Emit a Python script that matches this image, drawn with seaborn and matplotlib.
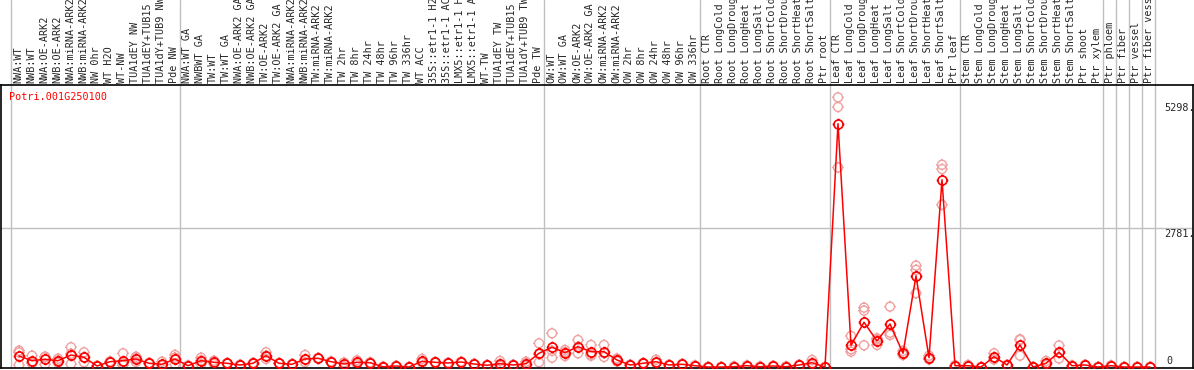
import matplotlib
matplotlib.use("Agg")
import matplotlib.pyplot as plt
import matplotlib.transforms as mtransforms
from matplotlib.path import Path
import numpy as np
import pandas as pd
import seaborn as sns

gene = "Potri.001G250100"

samples = [
    "NWA:WT", "NWB:WT", "NWA:OE-ARK2", "NWB:OE-ARK2", "NWA:miRNA-ARK2", "NWB:miRNA-ARK2",
    "NW 0hr", "WT H2O", "WT-NW", "TUA1dEY NW", "TUA1dEY+TUB15 NW", "TUA1dY+TUB9 NW", "Pde NW",
    "NWA:WT GA", "NWBWT GA", "TW:WT", "TW:WT GA", "NWA:OE-ARK2 GA", "NWB:OE-ARK2 GA",
    "TW:OE-ARK2", "TW:OE-ARK2 GA", "NWA:miRNA-ARK2", "NWB:miRNA-ARK2", "TW:miRNA-ARK2",
    "TW:miRNA-ARK2", "TW 2hr", "TW 8hr", "TW 24hr", "TW 48hr", "TW 96hr", "TW 336hr",
    "WT ACC", "35S::etr1-1 H2O", "35S::etr1-1 ACC", "LMX5::etr1-1 H2O", "LMX5::etr1-1 ACC",
    "WT-TW", "TUA1dEY TW", "TUA1dEY+TUB15 TW", "TUA1dY+TUB9 TW", "Pde TW",
    "OW:WT", "OW:WT GA", "OW:OE-ARK2", "OW:OE-ARK2 GA", "OW:miRNA-ARK2", "OW:miRNA-ARK2",
    "OW 2hr", "OW 8hr", "OW 24hr", "OW 48hr", "OW 96hr", "OW 336hr",
    "Root CTR", "Root LongCold", "Root LongDrought", "Root LongHeat", "Root LongSalt",
    "Root ShortCold", "Root ShortDrought", "Root ShortHeat", "Root ShortSalt", "Ptr root",
    "Leaf CTR", "Leaf LongCold", "Leaf LongDrought", "Leaf LongHeat", "Leaf LongSalt",
    "Leaf ShortCold", "Leaf ShortDrought", "Leaf ShortHeat", "Leaf ShortSalt", "Ptr leaf",
    "Stem CTR", "Stem LongCold", "Stem LongDrought", "Stem LongHeat", "Stem LongSalt",
    "Stem ShortCold", "Stem ShortDrought", "Stem ShortHeat", "Stem ShortSalt",
    "Ptr shoot", "Ptr xylem", "Ptr phloem", "Ptr fiber", "Ptr vessel", "Ptr fiber vessel",
]

# mean expression (red line)
mean_expr = [
    220, 126, 154, 126, 240, 194, 20, 106, 126, 160, 74, 54, 160,
    26, 126, 94, 74, 40, 74, 226, 74, 54, 160, 174, 106, 60, 94, 86, 4, 20, 0,
    114, 94, 80, 100, 60, 34, 66, 40, 66, 274,
    394, 286, 406, 306, 306, 140, 40, 74, 106, 40, 54, 26,
    0, 0, 6, 26, 6, 20, 6, 40, 86, 0,
    4860, 434, 894, 520, 860, 274, 1820, 186, 3740, 26,
    26, 0, 206, 40, 440, 0, 74, 296, 26,
    40, 0, 26, 0, 0, 0,
]

# replicates (pale circles)
rep1 = [
    326, 226, 206, 166, 394, 294, 26, 112, 274, 206, 82, 106, 240,
    32, 186, 126, 78, 46, 80, 294, 78, 60, 240, 180, 112, 86, 134, 92, 8, 26, 0,
    160, 100, 86, 106, 66, 40, 120, 46, 106, 474,
    674, 340, 540, 440, 440, 170, 46, 80, 146, 46, 60, 32,
    0, 0, 12, 32, 12, 26, 12, 46, 140, 0,
    5386, 620, 1186, 574, 1206, 320, 2026, 226, 4040, 32,
    40, 0, 274, 46, 554, 0, 120, 430, 32,
    46, 0, 32, 0, 0, 0,
]
rep2 = [
    40, 80, 54, 86, 60, 94, 14, 100, 34, 100, 66, 30, 54,
    20, 60, 60, 70, 34, 68, 160, 70, 48, 94, 168, 100, 6, 54, 80, 0, 14, 0,
    80, 88, 74, 94, 54, 28, 20, 34, 20, 94,
    186, 220, 274, 254, 200, 110, 34, 68, 80, 34, 48, 20,
    0, 0, 0, 20, 0, 14, 0, 34, 40, 0,
    5194, 354, 1126, 440, 686, 240, 1940, 150, 3954, 20,
    20, 0, 150, 34, 226, 0, 40, 170, 20,
    34, 0, 20, 0, 0, 0,
]
rep3 = [
    290, 72, 200, 126, 266, 194, 20, 106, 70, 174, 74, 26, 186,
    26, 132, 96, 74, 40, 74, 224, 74, 54, 146, 174, 106, 88, 94, 86, 4, 20, 0,
    102, 94, 80, 100, 60, 34, 58, 40, 72, 254,
    322, 298, 404, 224, 278, 140, 40, 74, 92, 40, 54, 26,
    0, 0, 6, 26, 6, 20, 6, 40, 78, 0,
    3986, 306, 434, 546, 640, 262, 1474, 182, 3240, 26,
    20, 0, 194, 40, 540, 0, 62, 288, 26,
    40, 0, 26, 0, 0, 0,
]

# group separators (after these sample indices)
group_ends = [-1, 12, 40, 52, 62, 72, 83, 84, 85, 86, 87]
y_labels = [5298, 2781]

idx = np.arange(len(samples))
df_mean = pd.DataFrame({"idx": idx, "expr": mean_expr})
df_rep = pd.DataFrame({"idx": np.tile(idx, 3), "expr": rep1 + rep2 + rep3})

# circle with short ticks, like the old web plot markers
circ = Path.unit_circle()
tk = 1.3
ticks = Path([(0, 1), (0, tk), (0, -1), (0, -tk), (1, 0), (tk, 0), (-1, 0), (-tk, 0)],
             [Path.MOVETO, Path.LINETO] * 4)
mk = Path.make_compound_path(circ, ticks)

sns.set_style("white")
plt.rcParams["font.family"] = ["DejaVu Sans Mono"]

W, H = 1194, 370
fig = plt.figure(figsize=(W / 100, H / 100), dpi=100)
top_px, bot_px = 85, 368
ax = fig.add_axes([1 / W, (H - bot_px) / H, 1192 / W, (bot_px - top_px) / H])

step = 13.0
xmin = -(19 - 1) / step
ax.set_xlim(xmin, xmin + 1192 / step)
ax.set_ylim(-20, 5633)

# separators run up through the label strip
yext = 1 + top_px / (bot_px - top_px)
for g in group_ends:
    ax.axvline(g + 0.42, ymin=0, ymax=yext, color="#c0c0c0", lw=1, clip_on=False, zorder=0)
ax.axhline(2781, color="#c0c0c0", lw=1, zorder=0)

sns.scatterplot(data=df_rep, x="idx", y="expr", marker=mk, s=70, facecolors="none",
                edgecolor="#f0a0a0", linewidth=1.0, zorder=2, ax=ax)
sns.lineplot(data=df_mean, x="idx", y="expr", color="#ff0000", lw=1.1, marker=mk,
             markersize=8.4, markerfacecolor="none", markeredgecolor="#ff0000",
             markeredgewidth=1.2, zorder=3, ax=ax)

# sample names, rotated and cut by the top of the figure
trans = mtransforms.blended_transform_factory(ax.transData, ax.transAxes)
ylab = (bot_px - 83) / (bot_px - top_px)
for i, s in enumerate(samples):
    ax.text(i - 0.08, ylab, s, rotation=90, ha="center", va="bottom", fontsize=7.3,
            transform=trans, clip_on=False)

# value labels on the right
tr2 = mtransforms.blended_transform_factory(ax.transAxes, ax.transData)
for v in y_labels:
    ax.text((1164 - 1) / 1192, v - 20, f"{v}.", ha="left", va="top", fontsize=7.3, transform=tr2)
ax.text((1166 - 1) / 1192, 20, "0", ha="left", va="bottom", fontsize=7.3, transform=tr2)

ax.text((9 - 1) / 1192, (bot_px - 97) / (bot_px - top_px), gene, color="#ff0000",
        ha="left", va="center", fontsize=7.3, transform=ax.transAxes)

ax.set_xticks([])
ax.set_yticks([])
ax.set_xlabel("")
ax.set_ylabel("")
for sp in ax.spines.values():
    sp.set_color("black")
    sp.set_linewidth(1.2)

fig.savefig("out.png", dpi=100)
